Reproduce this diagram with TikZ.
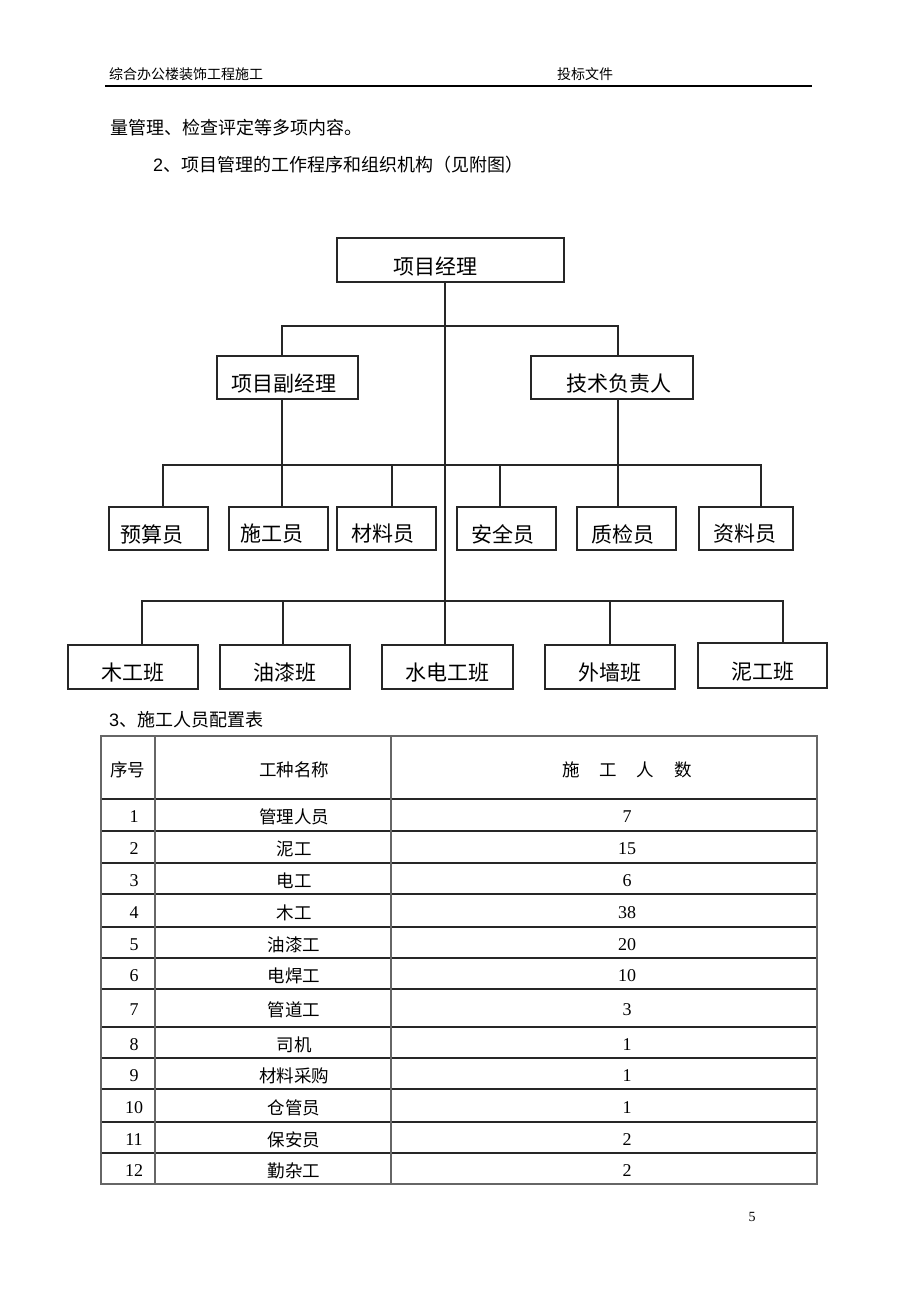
\documentclass[tikz,border=0pt]{standalone}
\usepackage{fontspec}
\setmainfont{Liberation Serif}
\newfontfamily\cjk{Noto Sans CJK SC}
\newfontfamily\sansf{Liberation Sans}
\newfontfamily\numf{Liberation Serif}
\begin{document}
\begin{tikzpicture}[x=1pt,y=-1pt,
  orgline/.style={line width=1.3pt, draw=black!85},
  orgbox/.style={draw=black!85, line width=1.3pt, inner sep=0pt},
  boxlbl/.style={font=\cjk\fontsize{21}{21}\selectfont, text=black, inner sep=0pt},
  hdr/.style={font=\cjk\fontsize{14}{14}\selectfont, anchor=west, inner sep=0pt},
  body/.style={font=\cjk\fontsize{18}{18}\selectfont, anchor=west, inner sep=0pt},
  cell/.style={font=\cjk\fontsize{17.5}{17.5}\selectfont, inner sep=0pt},
  num/.style={font=\numf\fontsize{18}{18}\selectfont, inner sep=0pt},
  tabouter/.style={draw=black!60, line width=1.6pt},
  tabinner/.style={draw=black!85, line width=1.1pt},
  tabcol/.style={draw=black!60, line width=1.3pt}
]
\useasboundingbox (0,0) rectangle (920,1302);
\fill[white] (0,0) rectangle (920,1302);

% ---------- header ----------
\node[hdr] (h1) at (109,74) {综合办公楼装饰工程施工};
\node[hdr] (h2) at (557,74) {投标文件};
\coordinate (hl) at (105,86);
\coordinate (hr) at (812,86);
\draw[line width=2pt] (hl) -- (hr);

% ---------- body text ----------
\node[body] (t1) at (110,128) {量管理、检查评定等多项内容。};
\node[body] (t2) at (153,165) {{\sansf 2}、项目管理的工作程序和组织机构（见附图）};

% ---------- org chart boxes ----------
\node[orgbox, minimum width=227pt, minimum height=44pt,
      label={[boxlbl, xshift=-15pt, yshift=-7pt]center:项目经理}] (pm) at (450.5,260) {};
\node[orgbox, minimum width=141pt, minimum height=43pt,
      label={[boxlbl, xshift=-3.5pt, yshift=-6.5pt]center:项目副经理}] (dep) at (287.5,377.5) {};
\node[orgbox, minimum width=162pt, minimum height=43pt,
      label={[boxlbl, xshift=6.5pt, yshift=-6.5pt]center:技术负责人}] (tech) at (612,377.5) {};

\node[orgbox, minimum width=99pt, minimum height=43pt,
      label={[boxlbl, xshift=-7pt, yshift=-5.5pt]center:预算员}] (ys) at (158.5,528.5) {};
\node[orgbox, minimum width=99pt, minimum height=43pt,
      label={[boxlbl, xshift=-6.5pt, yshift=-5.5pt]center:施工员}] (sg) at (278.5,528.5) {};
\node[orgbox, minimum width=99pt, minimum height=43pt,
      label={[boxlbl, xshift=-4pt, yshift=-5.5pt]center:材料员}] (cl) at (386.5,528.5) {};
\node[orgbox, minimum width=99pt, minimum height=43pt,
      label={[boxlbl, xshift=-4pt, yshift=-5.5pt]center:安全员}] (aq) at (506.5,528.5) {};
\node[orgbox, minimum width=99pt, minimum height=43pt,
      label={[boxlbl, xshift=-4pt, yshift=-5.5pt]center:质检员}] (zj) at (626.5,528.5) {};
\node[orgbox, minimum width=94pt, minimum height=43pt,
      label={[boxlbl, xshift=-1pt, yshift=-5.5pt]center:资料员}] (zl) at (746,528.5) {};

\node[orgbox, minimum width=130pt, minimum height=44pt,
      label={[boxlbl, yshift=-6pt]center:木工班}] (mg) at (133,667) {};
\node[orgbox, minimum width=130pt, minimum height=44pt,
      label={[boxlbl, yshift=-6pt]center:油漆班}] (yq) at (285,667) {};
\node[orgbox, minimum width=131pt, minimum height=44pt,
      label={[boxlbl, yshift=-6pt]center:水电工班}] (sd) at (447.5,667) {};
\node[orgbox, minimum width=130pt, minimum height=44pt,
      label={[boxlbl, yshift=-6pt]center:外墙班}] (wq) at (610,667) {};
\node[orgbox, minimum width=129pt, minimum height=45pt,
      label={[boxlbl, yshift=-6pt]center:泥工班}] (ngb) at (762.5,665.5) {};

% ---------- connectors ----------
\coordinate (tx) at (445,0);
\coordinate (b1l) at (282,326);
\coordinate (b1r) at (618,326);
\coordinate (b2a) at (163,465);
\coordinate (b2c) at (392,465);
\coordinate (b2d) at (500,465);
\coordinate (b2f) at (761,465);
\coordinate (b3a) at (142,601);
\coordinate (b3b) at (283,601);
\coordinate (b3d) at (610,601);
\coordinate (b3e) at (783,601);
\coordinate (tk1) at (445,422);
\coordinate (tk2) at (445,450);

% trunk
\draw[orgline] (pm.south -| tx) -- (sd.north -| tx);
\draw[line width=2.4pt, draw=black!85] (tk1) -- (tk2);
% first bar
\draw[orgline] (dep.north -| b1l) -- (b1l) -- (b1r) -- (tech.north -| b1r);
% deputy / tech down lines
\draw[orgline] (dep.south -| b1l) -- (sg.north -| b1l);
\draw[orgline] (tech.south -| b1r) -- (zj.north -| b1r);
% second bar
\draw[orgline] (ys.north -| b2a) -- (b2a) -- (b2f) -- (zl.north -| b2f);
\draw[orgline] (b2c) -- (cl.north -| b2c);
\draw[orgline] (b2d) -- (aq.north -| b2d);
% third bar
\draw[orgline] (mg.north -| b3a) -- (b3a) -- (b3e) -- (ngb.north -| b3e);
\draw[orgline] (b3b) -- (yq.north -| b3b);
\draw[orgline] (b3d) -- (wq.north -| b3d);

% ---------- table ----------
\node[body] (t3) at (109,720) {{\sansf 3}、施工人员配置表};

\foreach \y in {799,831,863,894,927,958,989,1027,1058,1089,1122,1153}{
  \draw[tabinner] (101,\y) -- (817,\y);
}
\draw[tabcol] (155,736) -- (155,1184);
\draw[tabcol] (391,736) -- (391,1184);
\draw[tabouter] (101,736) rectangle (817,1184);

\node[cell] (hc1) at (127.5,770) {序号};
\node[cell] (hc2) at (294,770) {工种名称};
\node[cell] (hc3) at (627,770) {施\hspace{20pt}工\hspace{20pt}人\hspace{20pt}数};

\foreach \i/\yy/\nm/\n in {
  1/817/管理人员/7,
  2/849/泥工/15,
  3/880.5/电工/6,
  4/912.5/木工/38,
  5/944.5/油漆工/20,
  6/975.5/电焊工/10,
  7/1010/管道工/3,
  8/1044.5/司机/1,
  9/1075.5/材料采购/1,
  10/1107.5/仓管员/1,
  11/1139.5/保安员/2,
  12/1170.5/勤杂工/2}{
  \node[num] (r\i a) at (134,\yy) {\i};
  \node[cell] (r\i b) at (294,\yy) {\nm};
  \node[num] (r\i c) at (627,\yy) {\n};
}

% ---------- page number ----------
\node[font=\numf\fontsize{14}{14}\selectfont, inner sep=0pt] (pg) at (752,1217) {5};
\end{tikzpicture}
\end{document}
